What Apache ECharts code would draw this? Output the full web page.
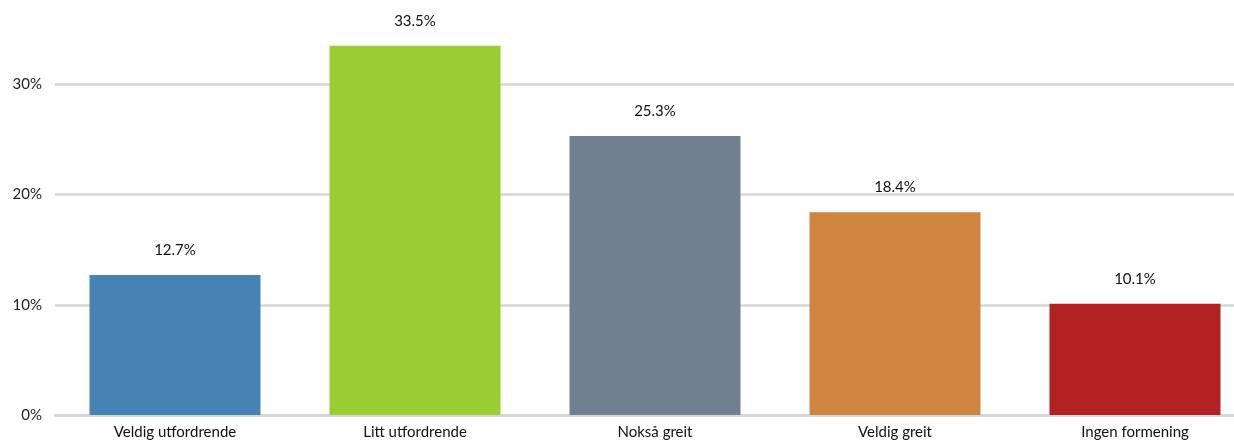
<!DOCTYPE html>
<html>
<head>
<meta charset="utf-8">
<script src="https://cdn.jsdelivr.net/npm/echarts@6/dist/echarts.min.js"></script>
<style>
  html, body { margin: 0; padding: 0; background: #fff; }
  #chart { width: 1234px; height: 441px; }
</style>
</head>
<body>
<div id="chart"></div>
<script>
// Survey answers and their shares (percent)
const categories = ['Veldig utfordrende', 'Litt utfordrende', 'Nokså greit', 'Veldig greit', 'Ingen formening'];
const shares = [12.7, 33.5, 25.3, 18.4, 10.1];
const barColors = ['#4682B4', '#9ACD32', '#708090', '#CD853F', '#B22222'];
const yTicks = [0, 10, 20, 30, 40];

const fontFamily = 'Lato, "Open Sans", sans-serif';
const chart = echarts.init(document.getElementById('chart'), null, { renderer: 'canvas' });

chart.setOption({
  animation: false,
  backgroundColor: '#ffffff',
  grid: { left: 55, right: -21, top: -26, bottom: 26, containLabel: false, outerBoundsMode: 'none' },
  xAxis: {
    type: 'category',
    data: categories,
    axisLine: { show: true, lineStyle: { color: '#d6d6d6', width: 2.5 } },
    axisTick: { show: false },
    axisLabel: { color: '#111', fontFamily, fontSize: 15, margin: 10, interval: 0 }
  },
  yAxis: {
    type: 'value',
    min: yTicks[0],
    max: yTicks[yTicks.length - 1],
    interval: 10,
    axisLine: { show: false },
    axisTick: { show: false },
    axisLabel: { color: '#222', fontFamily, fontSize: 15, margin: 13, formatter: v => v + '%' },
    splitLine: { show: true, lineStyle: { color: '#d6d6d6', width: 2.5 } }
  },
  series: [{
    type: 'bar',
    data: shares.map((v, i) => ({ value: v, itemStyle: { color: barColors[i] } })),
    barWidth: 171,
    label: {
      show: true,
      position: 'top',
      distance: 17,
      color: '#111',
      fontFamily,
      fontSize: 15,
      formatter: p => p.value.toFixed(1) + '%'
    }
  }]
});
</script>
</body>
</html>
